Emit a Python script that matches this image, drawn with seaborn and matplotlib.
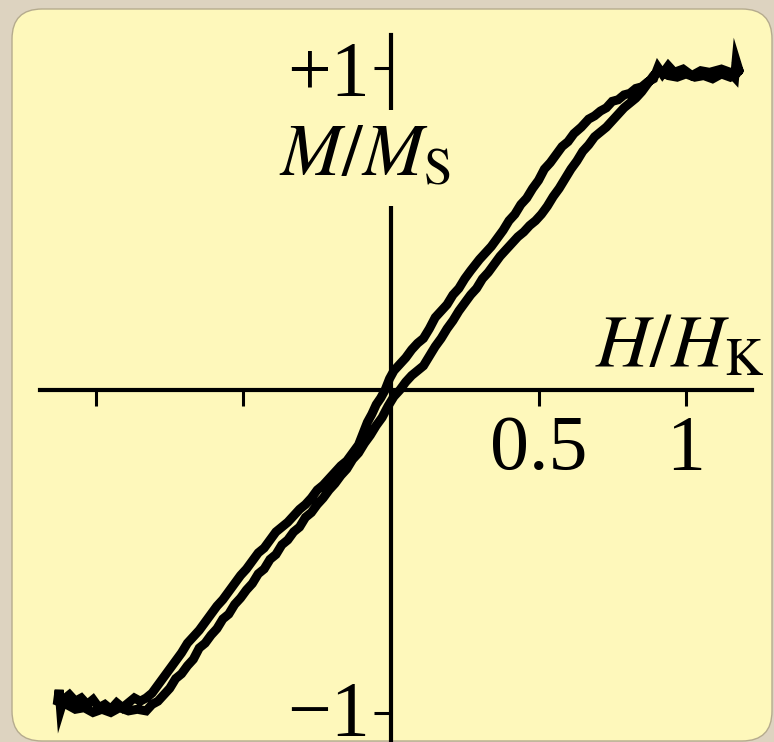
import numpy as np
import pandas as pd
import matplotlib
matplotlib.use("Agg")
import matplotlib.pyplot as plt
from matplotlib.patches import FancyBboxPatch
from matplotlib.transforms import ScaledTranslation
import seaborn as sns

sns.set_theme(style="white")
plt.rcParams['font.family'] = ['Liberation Serif', 'DejaVu Serif']
plt.rcParams['mathtext.fontset'] = 'stix'
plt.rcParams['axes.unicode_minus'] = True
plt.rcParams['text.color'] = 'black'

# 磁滞回线：下降支（从 +饱和 到 -饱和）
h_down = [1.18, 1.17, 1.165, 1.15, 1.12, 1.08, 1.05, 1.02, 0.99, 0.96, 0.94, 0.92,
          0.905, 0.89, 0.87, 0.85, 0.83, 0.81, 0.79, 0.77, 0.75, 0.73, 0.71, 0.69,
          0.67, 0.645, 0.62, 0.60, 0.58, 0.56, 0.54, 0.52, 0.50, 0.48, 0.46, 0.44,
          0.42, 0.40, 0.38, 0.36, 0.34, 0.32, 0.30, 0.27, 0.25, 0.23, 0.21, 0.19,
          0.17, 0.15, 0.13, 0.11, 0.09, 0.07, 0.05, 0.03, 0.01, -0.005, -0.02, -0.035,
          -0.05, -0.065, -0.08, -0.095, -0.11, -0.13, -0.15, -0.17, -0.19, -0.21, -0.23,
          -0.25, -0.27, -0.29, -0.31, -0.33, -0.35, -0.37, -0.39, -0.41, -0.43, -0.45,
          -0.47, -0.49, -0.51, -0.53, -0.55, -0.57, -0.59, -0.61, -0.63, -0.65, -0.67,
          -0.69, -0.71, -0.73, -0.75, -0.77, -0.79, -0.81, -0.83, -0.85, -0.87, -0.89,
          -0.91, -0.93, -0.95, -0.97, -0.99, -1.01, -1.03, -1.05, -1.07, -1.09, -1.11,
          -1.12, -1.125, -1.13]
m_down = [0.99, 1.02, 0.97, 0.985, 0.995, 0.985, 0.99, 0.975, 0.995, 0.985, 1.005, 0.98,
          1.0, 0.965, 0.955, 0.94, 0.935, 0.92, 0.915, 0.90, 0.895, 0.875, 0.865, 0.85,
          0.84, 0.815, 0.795, 0.77, 0.755, 0.73, 0.705, 0.685, 0.65, 0.625, 0.595, 0.575,
          0.545, 0.525, 0.495, 0.47, 0.445, 0.425, 0.405, 0.37, 0.345, 0.315, 0.295, 0.265,
          0.245, 0.225, 0.19, 0.16, 0.145, 0.125, 0.10, 0.08, 0.06, 0.035, 0.0, -0.025,
          -0.045, -0.075, -0.10, -0.135, -0.17, -0.195, -0.22, -0.235, -0.255, -0.275, -0.295,
          -0.31, -0.335, -0.355, -0.37, -0.39, -0.41, -0.425, -0.44, -0.465, -0.49, -0.505,
          -0.53, -0.555, -0.575, -0.60, -0.625, -0.65, -0.67, -0.695, -0.72, -0.745, -0.765,
          -0.785, -0.815, -0.84, -0.865, -0.89, -0.915, -0.94, -0.955, -0.965, -0.955, -0.97,
          -0.985, -0.97, -0.99, -0.975, -0.985, -0.96, -0.975, -0.955, -0.965, -0.945, -0.96,
          -0.99, -0.93, -0.965]

# 上升支（从 -饱和 回到 +饱和）
h_up = [-1.13, -1.10, -1.07, -1.04, -1.01, -0.98, -0.95, -0.92, -0.89, -0.86, -0.83,
        -0.81, -0.79, -0.77, -0.75, -0.73, -0.71, -0.69, -0.67, -0.65, -0.63, -0.61,
        -0.59, -0.57, -0.55, -0.53, -0.51, -0.49, -0.47, -0.45, -0.43, -0.41, -0.39,
        -0.37, -0.35, -0.33, -0.31, -0.29, -0.27, -0.25, -0.23, -0.21, -0.19, -0.17,
        -0.15, -0.13, -0.11, -0.09, -0.07, -0.05, -0.03, -0.01, 0.01, 0.03, 0.05, 0.07,
        0.09, 0.11, 0.13, 0.15, 0.17, 0.19, 0.21, 0.23, 0.25, 0.27, 0.29, 0.31, 0.33,
        0.35, 0.37, 0.39, 0.41, 0.43, 0.45, 0.47, 0.49, 0.51, 0.53, 0.55, 0.57, 0.59,
        0.61, 0.63, 0.65, 0.67, 0.69, 0.71, 0.73, 0.75, 0.77, 0.79, 0.81, 0.83, 0.85,
        0.87, 0.89, 0.91, 0.94, 0.97, 1.0, 1.03, 1.06, 1.09, 1.12, 1.15, 1.17, 1.18]
m_up = [-0.965, -0.975, -0.99, -0.985, -1.0, -0.99, -1.0, -0.985, -0.995, -0.99, -0.995,
        -0.975, -0.965, -0.945, -0.925, -0.895, -0.88, -0.855, -0.835, -0.80, -0.785, -0.76,
        -0.74, -0.71, -0.695, -0.665, -0.645, -0.62, -0.60, -0.57, -0.555, -0.525, -0.51,
        -0.48, -0.465, -0.44, -0.425, -0.395, -0.38, -0.355, -0.335, -0.31, -0.29, -0.265,
        -0.245, -0.215, -0.195, -0.165, -0.14, -0.11, -0.085, -0.05, -0.02, 0.0, 0.025, 0.045,
        0.06, 0.075, 0.105, 0.135, 0.16, 0.19, 0.215, 0.245, 0.27, 0.295, 0.315, 0.345, 0.365,
        0.39, 0.415, 0.435, 0.455, 0.475, 0.49, 0.51, 0.525, 0.545, 0.57, 0.60, 0.625, 0.655,
        0.685, 0.71, 0.74, 0.76, 0.785, 0.80, 0.815, 0.835, 0.855, 0.875, 0.89, 0.905, 0.925,
        0.95, 0.975, 0.99, 0.975, 0.97, 0.98, 0.97, 0.975, 0.965, 0.98, 0.97, 0.98, 0.99]

x_ticks = [-1, -0.5, 0.5, 1]
x_tick_labels = ['', '', '0.5', '1']
y_ticks = [-1, 1]
y_tick_labels = ['\u22121', '+1']

loop = pd.DataFrame({
    'H': h_down + h_up,
    'M': m_down + m_up,
})

W, H = 774, 742
fig = plt.figure(figsize=(W / 100, H / 100), dpi=100)
fig.patch.set_facecolor('#ddd3c0')

# 背景层：圆角黄色面板
bg = fig.add_axes([0, 0, 1, 1], zorder=-1)
bg.set_axis_off()
bg.set_xlim(0, W)
bg.set_ylim(H, 0)
bg.add_patch(FancyBboxPatch((12, 9), 760, 732,
                            boxstyle="round,pad=0,rounding_size=30",
                            facecolor='#fef8bb', edgecolor='#b5ab8e',
                            linewidth=1.0))

ax = fig.add_axes([40 / W, 0.0, 712 / W, 707 / H])
ax.set_facecolor('none')

sns.lineplot(data=loop, x='H', y='M', sort=False, estimator=None,
             color='black', linewidth=6.5, ax=ax, solid_joinstyle='miter')

ax.set_xlim((40 - 391) / 295, (752 - 391) / 295)
ax.set_ylim((390 - 742) / 322.5, (390 - 35) / 322.5)

for side in ['top', 'right']:
    ax.spines[side].set_visible(False)
ax.spines['left'].set_position(('data', 0))
ax.spines['bottom'].set_position(('data', 0))
for side in ['left', 'bottom']:
    ax.spines[side].set_linewidth(3)
    ax.spines[side].set_color('black')

ax.set_xticks(x_ticks)
ax.set_xticklabels(x_tick_labels)
ax.set_yticks(y_ticks)
ax.set_yticklabels(y_tick_labels)
ax.tick_params(axis='x', bottom=True, direction='out', length=11.5, width=2.2,
               pad=6, labelsize=56, colors='black')
ax.tick_params(axis='y', left=True, direction='out', length=12, width=2.2,
               pad=3, labelsize=56, colors='black')
ax.set_xlabel('')
ax.set_ylabel('')

# 下方 −1 标签稍微上移，避免被底边截断
lab = ax.get_yticklabels()[0]
lab.set_transform(lab.get_transform() + ScaledTranslation(0, 5 / 100, fig.dpi_scale_trans))

ax.text((365 - 391) / 295, (390 - 158) / 322.5, r'$M/M_{\mathrm{S}}$',
        fontsize=53, ha='center', va='center', zorder=5, color='black',
        bbox=dict(facecolor='#fef8bb', edgecolor='none', pad=10))
ax.text((680 - 391) / 295, (390 - 366) / 322.5, r'$H/H_{\mathrm{K}}$',
        fontsize=54, ha='center', va='baseline', zorder=5, color='black')

plt.savefig('out.png', dpi=100, facecolor=fig.get_facecolor())
plt.close()
